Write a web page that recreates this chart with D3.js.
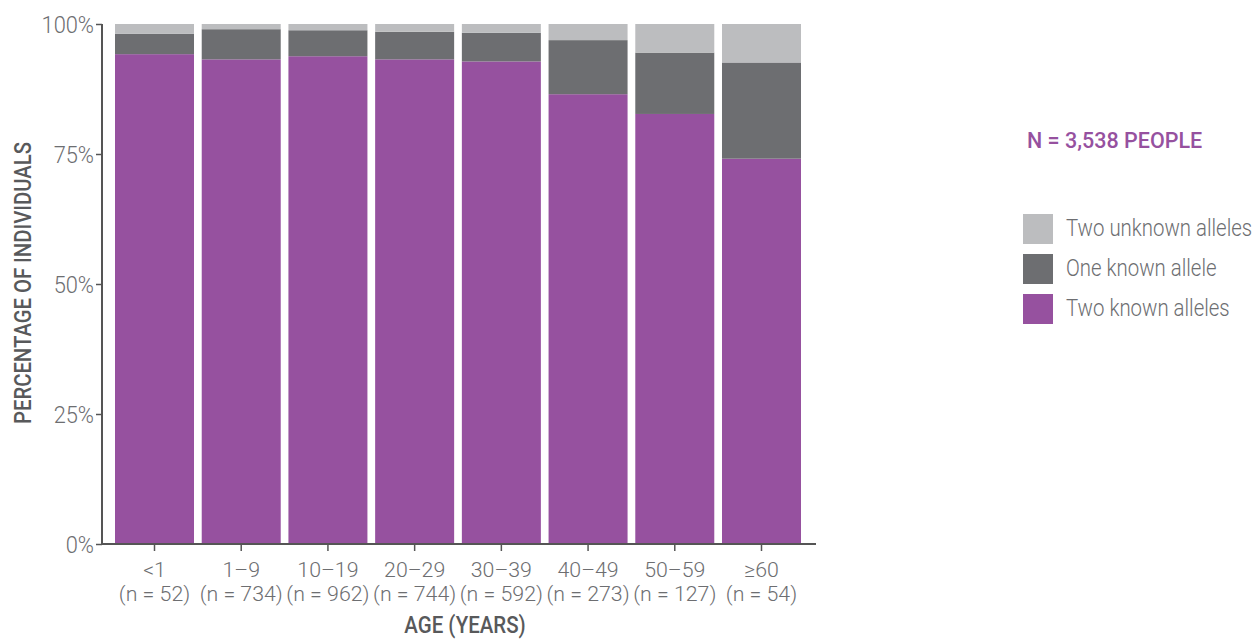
<!DOCTYPE html>
<html>
<head>
<meta charset="utf-8">
<script src="https://cdn.jsdelivr.net/npm/d3@7"></script>
<style>
  html, body { margin: 0; padding: 0; background: #fff; }
  text { font-family: "Roboto", "Liberation Sans", sans-serif; }
</style>
</head>
<body>
<svg id="chart" width="1257" height="639"></svg>
<script>
const ageGroups = ["<1", "1\u20139", "10\u201319", "20\u201329", "30\u201339", "40\u201349", "50\u201359", "\u226560"];
const groupN = ["(n = 52)", "(n = 734)", "(n = 962)", "(n = 744)", "(n = 592)", "(n = 273)", "(n = 127)", "(n = 54)"];
const twoKnown = [94.2, 93.2, 93.8, 93.2, 92.8, 86.5, 82.7, 74.1];
const oneKnown = [3.9, 5.8, 5.0, 5.3, 5.5, 10.4, 11.8, 18.5];
const twoUnknown = [1.9, 1.0, 1.2, 1.5, 1.7, 3.1, 5.5, 7.4];
const seriesNames = ["Two known alleles", "One known allele", "Two unknown alleles"];
const seriesColors = ["#96519f", "#6d6e71", "#bcbdbf"];
const yTicks = [0, 25, 50, 75, 100];

const svg = d3.select("#chart");
const margin = { left: 102, top: 24, right: 814, bottom: 544 };
const textColor = "#6d6e71";

// condensed text helper
function ctext(parent, x, y, str, opts) {
  opts = opts || {};
  const t = parent.append("text")
    .attr("transform", `translate(${x},${y}) ${opts.rotate ? "rotate(" + opts.rotate + ")" : ""} scale(${opts.sx || 0.9},1)`)
    .attr("text-anchor", opts.anchor || "start")
    .attr("fill", opts.fill || textColor)
    .attr("font-size", opts.size || 24)
    .attr("font-weight", opts.weight || 300)
    .text(str);
  return t;
}

const rows = ageGroups.map((g, i) => ({ group: g, s0: twoKnown[i], s1: oneKnown[i], s2: twoUnknown[i] }));
const stacked = d3.stack().keys(["s0", "s1", "s2"])(rows);

const x = d3.scaleBand().domain(ageGroups).range([margin.left, margin.right])
  .paddingInner(0.089).paddingOuter(0.15);
const y = d3.scaleLinear().domain([0, 100]).range([margin.bottom, margin.top]);

// bars
svg.append("g").selectAll("g").data(stacked).join("g")
  .attr("fill", (d, i) => seriesColors[i])
  .selectAll("rect").data(d => d).join("rect")
  .attr("x", d => x(d.data.group))
  .attr("width", x.bandwidth())
  .attr("y", d => y(d[1]))
  .attr("height", d => y(d[0]) - y(d[1]));

// y axis
const yAxis = svg.append("g").attr("transform", `translate(${margin.left},0)`)
  .call(d3.axisLeft(y).tickValues(yTicks).tickFormat("").tickSize(6));
yAxis.select(".domain").attr("stroke", "#555").attr("stroke-width", 2).attr("d", `M0,${margin.top}V${margin.bottom}`);
yAxis.selectAll(".tick line").attr("stroke", "#555").attr("stroke-width", 1.5);
yAxis.selectAll(".tick").each(function(d) {
  ctext(d3.select(this), -8, 8, d + "%", { anchor: "end", sx: 0.91 });
});

// x axis
const xAxis = svg.append("g").attr("transform", `translate(0,${margin.bottom})`)
  .call(d3.axisBottom(x).tickSize(7).tickFormat(""));
xAxis.select(".domain").attr("stroke", "#555").attr("stroke-width", 2).attr("d", `M${margin.left},0H${margin.right + 2}`);
xAxis.selectAll(".tick line").attr("stroke", "#555").attr("stroke-width", 1.5);
xAxis.selectAll(".tick").each(function(d, i) {
  const t = d3.select(this);
  ctext(t, 0, 32.5, d, { anchor: "middle", size: 20.5, sx: 1.04 });
  ctext(t, 0, 57, groupN[i], { anchor: "middle", size: 20.5, sx: 1.04 });
});

// axis titles
ctext(svg, 465, 633, "AGE (YEARS)", { anchor: "middle", weight: 500, size: 23, sx: 0.89, fill: "#58595b" });
ctext(svg, 31, 283, "PERCENTAGE OF INDIVIDUALS", { anchor: "middle", weight: 500, size: 24, sx: 0.845, fill: "#58595b", rotate: -90 });

// N label
ctext(svg, 1027, 148, "N = 3,538 PEOPLE", { weight: 500, size: 21.5, sx: 1.0, fill: "#96519f" });

// legend
const legendOrder = [2, 1, 0];
const lg = svg.append("g").selectAll("g").data(legendOrder).join("g")
  .attr("transform", (d, i) => `translate(1023,${214 + i * 40})`);
lg.append("rect").attr("width", 30).attr("height", 30).attr("fill", d => seriesColors[d]);
lg.each(function(d) {
  ctext(d3.select(this), 43, 22, seriesNames[d], { size: 24, sx: 0.85 });
});
</script>
</body>
</html>
